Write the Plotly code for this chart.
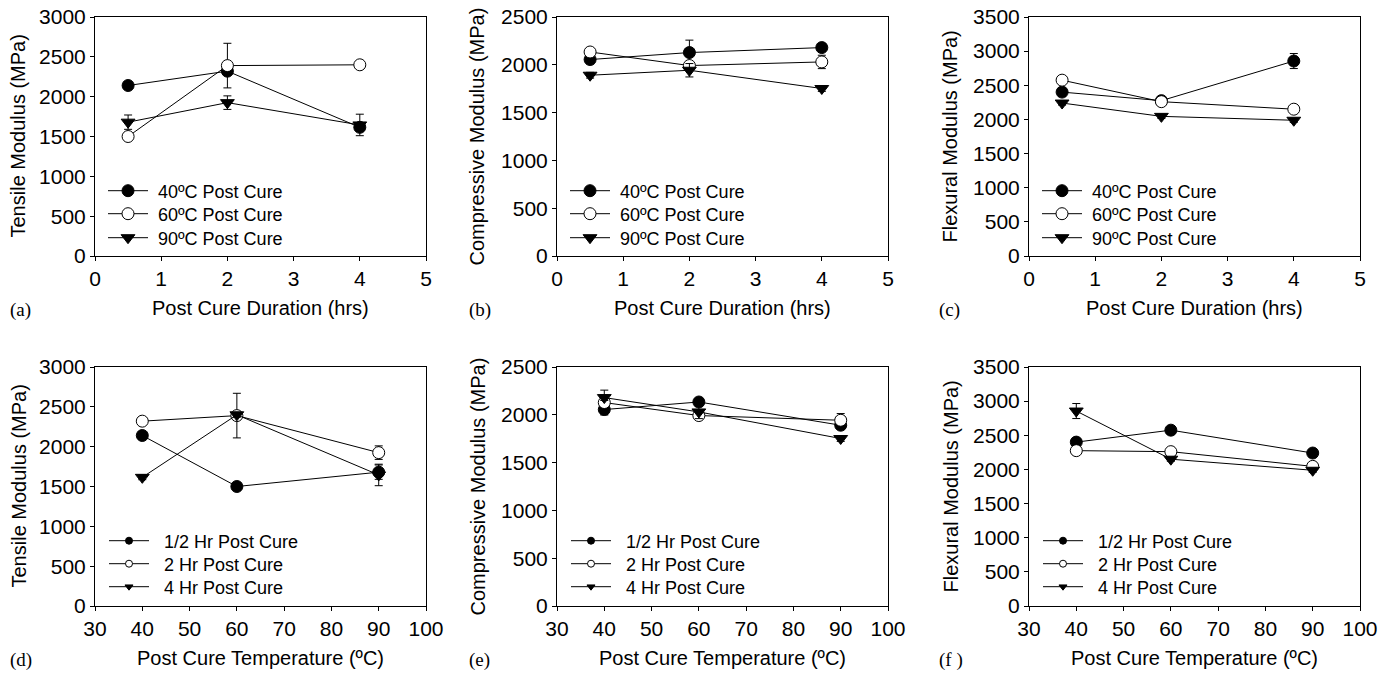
import plotly.graph_objects as go

# ---------------- data ----------------
durations = [0.5, 2, 4]            # hrs
temperatures = [40, 60, 90]        # ºC
temp_labels = ["40ºC Post Cure", "60ºC Post Cure", "90ºC Post Cure"]
dur_labels = ["1/2 Hr Post Cure", "2 Hr Post Cure", "4 Hr Post Cure"]

# values per post-cure temperature, ordered by duration (0.5, 2, 4 hrs)
tensile_40 = [2140, 2320, 1615]
tensile_60 = [1500, 2390, 2400]
tensile_90 = [1680, 1925, 1645]
tensile_err_40 = [30, 30, 30]
tensile_err_60 = [30, 280, 30]
tensile_err_90 = [90, 85, 135]

compressive_40 = [2055, 2128, 2180]
compressive_60 = [2134, 1992, 2030]
compressive_90 = [1891, 1943, 1752]
compressive_err_40 = [45, 130, 30]
compressive_err_60 = [30, 30, 70]
compressive_err_90 = [30, 70, 30]

flexural_40 = [2400, 2275, 2855]
flexural_60 = [2575, 2260, 2150]
flexural_90 = [2240, 2045, 1988]
flexural_err_40 = [30, 30, 110]
flexural_err_60 = [30, 30, 30]
flexural_err_90 = [30, 30, 30]

props = [
    ("Tensile Modulus (MPa)", [tensile_40, tensile_60, tensile_90],
     [tensile_err_40, tensile_err_60, tensile_err_90], 3000),
    ("Compressive Modulus (MPa)", [compressive_40, compressive_60, compressive_90],
     [compressive_err_40, compressive_err_60, compressive_err_90], 2500),
    ("Flexural Modulus (MPa)", [flexural_40, flexural_60, flexural_90],
     [flexural_err_40, flexural_err_60, flexural_err_90], 3500),
]

# ---------------- layout geometry ----------------
W, H = 1387, 676
col_px = [(95, 426), (557, 888), (1029, 1360)]
row_px = [(17, 256), (367, 606)]
ytitle_x = [18, 477, 950]
panel_lbl_x = [8, 467, 937]
panel_names = [["(a)", "(b)", "(c)"], ["(d)", "(e)", "(f )"]]
legend_rows = [[191, 214, 238], [541, 564, 587]]

FONT = "Liberation Sans, Arial, sans-serif"
styles = [
    dict(symbol="circle", color="black", line=dict(color="black", width=1)),
    dict(symbol="circle", color="white", line=dict(color="black", width=1)),
    dict(symbol="triangle-down", color="black", line=dict(color="black", width=1)),
]
sizes_plot = [12, 12, 12]
NBSP = "\u00a0"

fig = go.Figure()
layout = dict(template="none", width=W, height=H,
              margin=dict(l=0, r=0, t=0, b=0, autoexpand=False),
              paper_bgcolor="white", plot_bgcolor="white",
              font=dict(family=FONT, color="black", size=20),
              showlegend=True, annotations=[])

idx = 0
leg_n = 0


def new_legend(xpx, ypx):
    global leg_n
    leg_n += 1
    name = "legend" if leg_n == 1 else f"legend{leg_n}"
    layout[name] = dict(x=xpx / W, y=1 - ypx / H, xanchor="left",
                        yanchor="middle", bgcolor="rgba(0,0,0,0)", borderwidth=0,
                        font=dict(size=18, family=FONT, color="black"),
                        tracegroupgap=0, itemwidth=40, itemsizing="trace")
    return name


for r in range(2):
    for c in range(3):
        idx += 1
        title, series, errs, ymax = props[c]
        xa = "xaxis" if idx == 1 else f"xaxis{idx}"
        ya = "yaxis" if idx == 1 else f"yaxis{idx}"
        xr = "x" if idx == 1 else f"x{idx}"
        yr = "y" if idx == 1 else f"y{idx}"
        x0, x1 = col_px[c]
        t0, t1 = row_px[r]
        common = dict(showgrid=False, zeroline=False, showline=True, mirror=True,
                      linecolor="black", linewidth=1, ticks="outside", ticklen=4,
                      tickwidth=1, tickcolor="black", automargin=False,
                      tickfont=dict(size=21, family=FONT, color="black"))
        if r == 0:
            layout[xa] = dict(domain=[x0 / W, x1 / W], range=[0, 5], dtick=1,
                              tick0=0, anchor=yr, **common)
        else:
            layout[xa] = dict(domain=[x0 / W, x1 / W], range=[30, 100], dtick=10,
                              tick0=30, anchor=yr, **common)
        layout[ya] = dict(domain=[1 - t1 / H, 1 - t0 / H], range=[0, ymax],
                          dtick=500, tick0=0, anchor=xr, **common)

        if r == 0:
            # series = post-cure temperature, x = duration
            for k in range(3):
                lg = new_legend(x0 + 8, legend_rows[r][k])
                fig.add_trace(go.Scatter(
                    x=durations, y=series[k], name=NBSP + temp_labels[k],
                    mode="lines+markers", xaxis=xr, yaxis=yr, legend=lg,
                    line=dict(color="black", width=1),
                    marker=dict(size=sizes_plot[k], **styles[k]),
                    error_y=dict(type="data", array=errs[k], color="black",
                                 thickness=1, width=4)))
        else:
            # series = post-cure duration, x = temperature
            for j in range(3):
                yv = [series[k][j] for k in range(3)]
                ev = [errs[k][j] for k in range(3)]
                fig.add_trace(go.Scatter(
                    x=temperatures, y=yv, name=dur_labels[j],
                    mode="lines+markers", xaxis=xr, yaxis=yr, showlegend=False,
                    line=dict(color="black", width=1),
                    marker=dict(size=sizes_plot[j], **styles[j]),
                    error_y=dict(type="data", array=ev, color="black",
                                 thickness=1, width=4)))
            for j in range(3):
                lg = new_legend(x0 + 9, legend_rows[r][j])
                fig.add_trace(go.Scatter(
                    x=[None], y=[None], name=NBSP + NBSP + dur_labels[j],
                    mode="lines+markers", xaxis=xr, yaxis=yr, legend=lg,
                    line=dict(color="black", width=1),
                    marker=dict(size=7, **styles[j])))

        # axis titles
        xt = "Post Cure Duration (hrs)" if r == 0 else "Post Cure Temperature (ºC)"
        layout["annotations"].append(dict(
            text=xt, xref="paper", yref="paper", x=(x0 + x1) / 2 / W,
            y=1 - (t1 + 52) / H, xanchor="center", yanchor="middle",
            showarrow=False, font=dict(size=20, family=FONT, color="black")))
        layout["annotations"].append(dict(
            text=title, xref="paper", yref="paper", x=ytitle_x[c] / W,
            y=1 - (t0 + t1) / 2 / H, xanchor="center", yanchor="middle",
            textangle=-90, showarrow=False,
            font=dict(size=20, family=FONT, color="black")))
        # panel label
        layout["annotations"].append(dict(
            text=panel_names[r][c], xref="paper", yref="paper",
            x=panel_lbl_x[c] / W, y=1 - (t1 + 54) / H, xanchor="left",
            yanchor="middle", showarrow=False,
            font=dict(size=19, family="Liberation Serif, Times New Roman, serif",
                      color="black")))

fig.update_layout(**layout)
fig.write_html("out.html")
